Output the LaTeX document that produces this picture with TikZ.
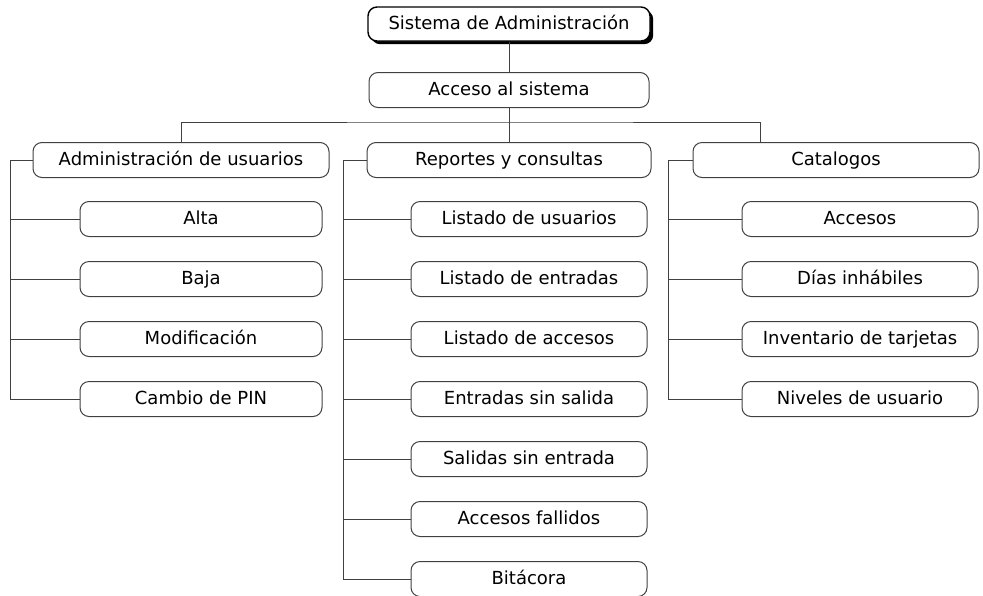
\documentclass[tikz,border=0pt]{standalone}
\usepackage{fontspec}
\setmainfont{DejaVu Sans}
\usetikzlibrary{positioning, shadows}

\begin{document}
\begin{tikzpicture}[
  x=0.5pt, y=-0.5pt,
  font=\fontsize{9}{11}\selectfont,
  box/.style={draw=black!75, line width=0.5pt, rounded corners=4.5pt,
              minimum height=17.5pt, align=center, inner sep=2pt,
              text height=7pt, text depth=2pt},
  headbox/.style={box, minimum width=143pt},
  subbox/.style={box, minimum width=118pt},
  admsub/.style={subbox, minimum width=121pt},
  topbox/.style={box, draw=black, fill=white, line width=0.7pt,
                 minimum width=141pt, minimum height=17pt,
                 drop shadow={fill=black, opacity=1,
                              shadow xshift=1.6pt, shadow yshift=-1.6pt}},
  link/.style={draw=black!75, line width=0.5pt},
  node distance=12pt and 0pt
]
  \useasboundingbox (0,0) rectangle (983,595);

  % top of the tree
  \node[topbox] (sis) at (509,24) {Sistema de Administración};
  \node[box, minimum width=140pt] (acc) at (509,90) {Acceso al sistema};

  % the three branches
  \node[headbox, minimum width=148pt] (adm) at (181,160) {Administración de usuarios};
  \node[headbox, minimum width=142pt] (rep) at (509,160) {Reportes y consultas};
  \node[headbox] (cat) at (836,160) {Catalogos};

  % usuarios
  \node[admsub, below=11.5pt of adm, xshift=10pt] (alta) {Alta};
  \node[admsub, below=of alta] (baja) {Baja};
  \node[admsub, below=of baja] (mod) {Modificación};
  \node[admsub, below=of mod] (pin) {Cambio de PIN};

  % reportes
  \node[subbox, below=11.5pt of rep, xshift=10pt] (lusu) {Listado de usuarios};
  \node[subbox, below=of lusu] (lent) {Listado de entradas};
  \node[subbox, below=of lent] (lacc) {Listado de accesos};
  \node[subbox, below=of lacc] (esin) {Entradas sin salida};
  \node[subbox, below=of esin] (ssin) {Salidas sin entrada};
  \node[subbox, below=of ssin] (afal) {Accesos fallidos};
  \node[subbox, below=of afal] (bit) {Bitácora};

  % catalogos
  \node[subbox, below=11.5pt of cat, xshift=12pt] (cacc) {Accesos};
  \node[subbox, below=of cacc] (dias) {Días inhábiles};
  \node[subbox, below=of dias] (inv) {Inventario de tarjetas};
  \node[subbox, below=of inv] (niv) {Niveles de usuario};

  % connectors
  \coordinate[below=7pt of acc.south] (jn);
  \draw[link] (sis) -- (acc);
  \draw[link] (acc) -- (jn);
  \draw[link] (adm.north) |- (jn) -| ([xshift=-38pt]cat.north);
  \draw[link] (jn) -- (rep);

  \coordinate[left=11pt of adm.west] (admx);
  \draw[link] (adm.west) -- (admx) |- (pin.west);
  \draw[link] (alta.west) -- (alta.west -| admx);
  \draw[link] (baja.west) -- (baja.west -| admx);
  \draw[link] (mod.west) -- (mod.west -| admx);

  \coordinate[left=11.5pt of rep.west] (repx);
  \draw[link] (rep.west) -- (repx) |- (bit.west);
  \draw[link] (lusu.west) -- (lusu.west -| repx);
  \draw[link] (lent.west) -- (lent.west -| repx);
  \draw[link] (lacc.west) -- (lacc.west -| repx);
  \draw[link] (esin.west) -- (esin.west -| repx);
  \draw[link] (ssin.west) -- (ssin.west -| repx);
  \draw[link] (afal.west) -- (afal.west -| repx);

  \coordinate[left=12pt of cat.west] (catx);
  \draw[link] (cat.west) -- (catx) |- (niv.west);
  \draw[link] (cacc.west) -- (cacc.west -| catx);
  \draw[link] (dias.west) -- (dias.west -| catx);
  \draw[link] (inv.west) -- (inv.west -| catx);
\end{tikzpicture}
\end{document}
